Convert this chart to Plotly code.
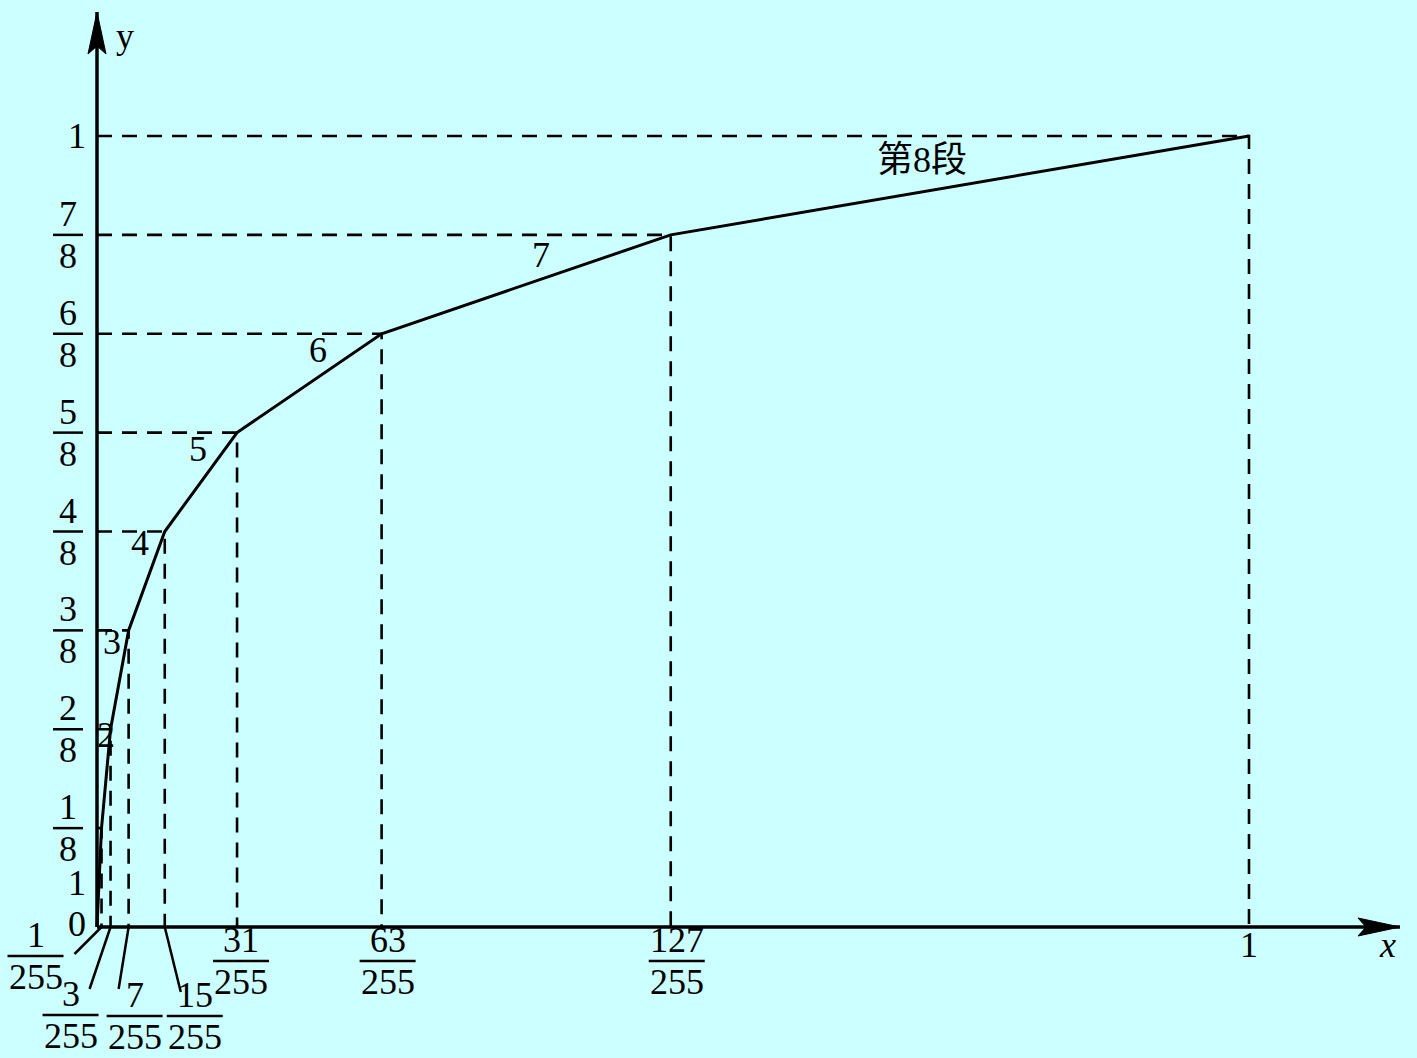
import plotly.graph_objects as go

# ---- data ----
x_break = [0, 1/255, 3/255, 7/255, 15/255, 31/255, 63/255, 127/255, 1]
y_break = [0, 1/8, 2/8, 3/8, 4/8, 5/8, 6/8, 7/8, 1]

x_tick_vals = [1/255, 3/255, 7/255, 15/255, 31/255, 63/255, 127/255]
x_tick_num = ["1", "3", "7", "15", "31", "63", "127"]
x_tick_den = "255"
y_tick_vals = [1/8, 2/8, 3/8, 4/8, 5/8, 6/8, 7/8]
y_tick_num = ["1", "2", "3", "4", "5", "6", "7"]
y_tick_den = "8"
segment_labels = ["1", "2", "3", "4", "5", "6", "7", "第8段"]

# ---- styles / layout constants ----
BG = "#CCFFFF"
SERIF = "Liberation Serif, Times New Roman, Noto Sans CJK SC, serif"
FS = 36
X_RANGE = [-97/1152, 1320/1152]
Y_RANGE = [-131/791, 927/791]
X_END = 1303/1152
Y_END = 915/791

# x tick label layout (pixel offsets relative to the tick on the axis)
x_lab_dx = [-66, -40, 6, 30, 4, 6, 6]
x_lab_below = [29, 88, 89, 89, 34, 34, 34]
x_lab_hw = [28, 28, 28, 28, 28, 28, 28]
leader = [(-27, -27), (-21, -62), (-10, -62), (16, -65), None, None, None]
# segment label shifts relative to segment midpoints
seg_dx = [-22, 0, -8, -7, -3, 9, 15, -38]
seg_dy = [-5, 44, 38, 38, 33, 33, 29, 25]

fig = go.Figure()

# dashed guide lines
for xv, yv in zip(x_break[1:], y_break[1:]):
    fig.add_trace(go.Scatter(x=[0, xv, xv], y=[yv, yv, 0], mode="lines",
                             line=dict(color="black", width=2.6, dash="15px,10px"),
                             hoverinfo="skip", showlegend=False))

# main curve
fig.add_trace(go.Scatter(x=x_break, y=y_break, mode="lines",
                         line=dict(color="black", width=3),
                         hoverinfo="skip", showlegend=False))

shapes = []
ann = []
# axes
shapes.append(dict(type="line", xref="x", yref="y", x0=0, y0=0, x1=X_END, y1=0,
                   line=dict(color="black", width=3.5)))
shapes.append(dict(type="line", xref="x", yref="y", x0=0, y0=0, x1=0, y1=Y_END,
                   line=dict(color="black", width=3.5)))
shapes.append(dict(type="path", xref="x", yref="y", xsizemode="pixel", ysizemode="pixel",
                   xanchor=0, yanchor=Y_END, path="M0,0 L-9,-42 L0,-34 L9,-42 Z",
                   fillcolor="black", line=dict(color="black", width=1)))
shapes.append(dict(type="path", xref="x", yref="y", xsizemode="pixel", ysizemode="pixel",
                   xanchor=X_END, yanchor=0, path="M0,0 L-42,9 L-34,0 L-42,-9 Z",
                   fillcolor="black", line=dict(color="black", width=1)))

font = dict(family=SERIF, size=FS, color="black")


def text(x, y, s, xshift=0, yshift=0, yanchor="middle"):
    return dict(x=x, y=y, xref="x", yref="y", text=s, showarrow=False, font=font,
                xanchor="center", yanchor=yanchor, xshift=xshift, yshift=yshift,
                borderpad=0)


# y tick fractions
for v, n in zip(y_tick_vals, y_tick_num):
    shapes.append(dict(type="line", xref="x", yref="y", xsizemode="pixel", xanchor=0,
                       x0=-44, x1=-14, y0=v, y1=v, line=dict(color="black", width=2.5)))
    ann.append(text(0, v, n, -29, 0, "bottom"))
    ann.append(text(0, v, y_tick_den, -29, 0, "top"))
ann.append(text(0, 1, "1", -20, 0))
ann.append(text(0, 0, "0", -20, 3))

# x tick fractions
for i, (v, n) in enumerate(zip(x_tick_vals, x_tick_num)):
    dx, below, hw = x_lab_dx[i], x_lab_below[i], x_lab_hw[i]
    shapes.append(dict(type="line", xref="x", yref="y", xsizemode="pixel", ysizemode="pixel",
                       xanchor=v, yanchor=0, x0=dx - hw, x1=dx + hw, y0=-below, y1=-below,
                       line=dict(color="black", width=2.5)))
    ann.append(text(v, 0, n, dx, -below, "bottom"))
    ann.append(text(v, 0, x_tick_den, dx, -below, "top"))
    if leader[i] is not None:
        lx, ly = leader[i]
        shapes.append(dict(type="line", xref="x", yref="y", xsizemode="pixel", ysizemode="pixel",
                           xanchor=v, yanchor=0, x0=0, y0=0, x1=lx, y1=ly,
                           line=dict(color="black", width=2.5)))
ann.append(text(1, 0, "1", 0, -18))

# axis names
ann.append(text(0, Y_END, "y", 28, -24))
ann.append(text(X_END, 0, "<i>x</i>", -13, -18))

# segment labels
for i, lab in enumerate(segment_labels):
    mx = (x_break[i] + x_break[i + 1]) / 2
    my = (y_break[i] + y_break[i + 1]) / 2
    ann.append(text(mx, my, lab, seg_dx[i], seg_dy[i]))

fig.update_layout(
    width=1417, height=1058, autosize=False,
    margin=dict(l=0, r=0, t=0, b=0, pad=0),
    paper_bgcolor=BG, plot_bgcolor=BG,
    font=font,
    xaxis=dict(range=X_RANGE, visible=False, fixedrange=True),
    yaxis=dict(range=Y_RANGE, visible=False, fixedrange=True),
    shapes=shapes, annotations=ann, showlegend=False,
)

fig.write_html("out.html", config={"displayModeBar": False},
               post_script="document.body.style.margin='0px';document.body.style.background='#CCFFFF';")
